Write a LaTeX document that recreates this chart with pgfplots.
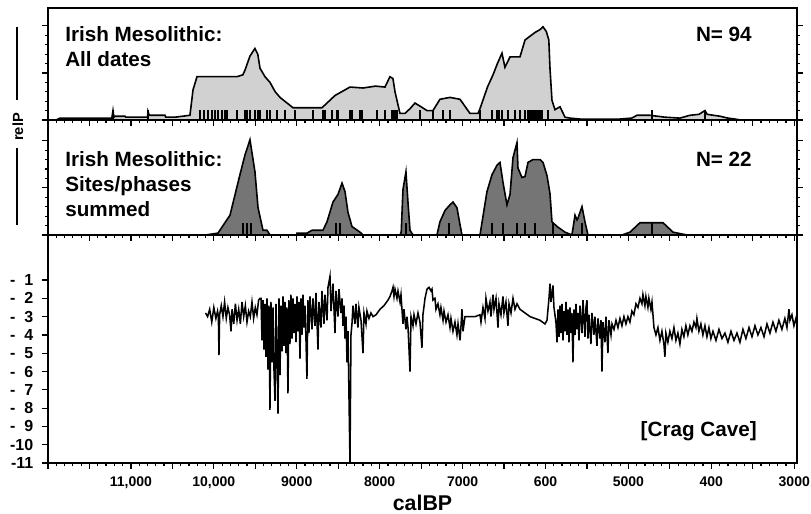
\documentclass[border=0pt]{standalone}
\usepackage{fontspec}
\setmainfont{Liberation Sans}
\usepackage{pgfplots}
\pgfplotsset{compat=1.18}

\definecolor{lightfill}{gray}{0.82}
\definecolor{darkfill}{gray}{0.46}

\pgfplotsset{
  panel/.style={
    scale only axis, width=561.75pt,
    xmin=2967, xmax=12000, x dir=reverse,
    scaled x ticks=false, scaled y ticks=false,
    axis line style={line width=1.2pt},
    tick align=outside, xtick pos=bottom,
    xtick={3000,3500,...,12000}, minor x tick num=4,
    major tick length=4.5pt, minor tick length=2.5pt,
    every tick/.style={black, line width=0.9pt},
    tick label style={font=\bfseries\fontsize{10.5}{12}\selectfont},
  },
}

\begin{document}
\begin{tikzpicture}
\path[use as bounding box] (0,0) rectangle (608.25pt,385.5pt);

% ---------- top panel: all dates ----------
\begin{axis}[panel, name=top,
  at={(36pt,295.5pt)}, anchor=south west, height=84pt,
  ymin=0, ymax=11.9, ytick pos=both,
  ytick={0,5,10}, minor y tick num=4,
  xticklabels={}, yticklabels={}]
\addplot[fill=lightfill, draw=black, line width=1.2pt] coordinates {
 (11900,0) (11855,0.2) (11230,0.2) (11216,1.0) (11205,0.3) (11192,0.4) (11071,0.4)
 (11060,0.3) (10890,0.3) (10800,0.3) (10794,0.9) (10780,0.5) (10589,0.5) (10580,0.3)
 (10468,0.3) (10288,0.5) (10251,3.2) (10203,4.6) (9721,4.6) (9650,4.8) (9624,5.3)
 (9564,6.8) (9504,7.6) (9470,7.0) (9443,5.5) (9383,4.6) (9323,4.0) (9260,3.0)
 (9202,2.4) (9045,1.3) (8696,1.3) (8539,2.6) (8358,3.5) (8200,3.4) (8050,3.6)
 (7936,3.5) (7876,4.6) (7840,4.4) (7815,3.0) (7755,0.7) (7695,0.7) (7634,1.2)
 (7574,1.8) (7500,1.4) (7429,1.0) (7357,1.0) (7273,2.2) (7152,2.4) (7031,2.2)
 (6911,0.7) (6814,0.7) (6790,1.2) (6700,3.5) (6633,4.8) (6580,6.0) (6525,7.1)
 (6489,5.6) (6428,6.7) (6308,6.7) (6247,8.5) (6127,9.3) (6067,9.6) (6030,9.9)
 (5990,9.4) (5960,8.5) (5946,5.5) (5922,2.1) (5886,1.1) (5825,1.4) (5765,0.3)
 (5705,0.2) (5584,0.1) (5102,0.1) (4960,0.2) (4897,0.5) (4740,0.5) (4560,0.3)
 (4380,0.2) (4258,0.5) (4150,0.6) (4077,1.0) (4050,0.6) (3896,0.4) (3800,0.2)
 (3715,0.1) (3650,0)
} \closedcycle;
\addplot[ycomb, black, line width=1.5pt, mark=none] coordinates {
 (11216,1.1) (10794,1.1) (10167,1.1) (10119,1.1) (10070,1.1) (10022,1.1) (9986,1.1) (9950,1.1)
 (9902,1.1) (9865,1.1) (9841,1.1) (9721,1.1) (9624,1.1) (9600,1.1) (9564,1.1) (9504,1.1) (9467,1.1)
 (9443,1.1) (9359,1.1) (9323,1.1) (9238,1.1) (9142,1.1) (9021,1.1) (8804,1.1) (8684,1.1) (8660,1.1)
 (8575,1.1) (8515,1.1) (8503,1.1) (8358,1.1) (8334,1.1) (8237,1.1) (8213,1.1) (8032,1.1) (7936,1.1)
 (7851,1.1) (7827,1.1) (7803,1.1) (7791,1.1) (7514,1.1) (7357,1.1) (7236,1.1) (7152,1.1) (6790,1.1)
 (6645,1.1) (6585,1.1) (6561,1.1) (6525,1.1) (6453,1.1) (6368,1.1) (6308,1.1) (6247,1.1) (6211,1.1)
 (6187,1.1) (6163,1.1) (6139,1.1) (6115,1.1) (6091,1.1) (6067,1.1) (6043,1.1) (5970,1.1) (4716,1.1)
 (4077,1.1)
};
\end{axis}

% ---------- middle panel: sites/phases summed ----------
\begin{axis}[panel, name=mid,
  at={(36pt,209.25pt)}, anchor=south west, height=86.25pt,
  ymin=0, ymax=12.2, ytick pos=both,
  ytick={0,5,10}, minor y tick num=4,
  xticklabels={}, yticklabels={}]
\addplot[fill=darkfill, draw=black, line width=1.2pt] coordinates {
 (10100,0) (9950,0.2) (9805,2.1) (9685,6.4) (9624,8.5) (9564,10.1) (9504,6.7)
 (9467,2.9) (9407,0.5) (9359,0.5) (9323,0) (9000,0) (8997,0.2) (8876,0.2)
 (8816,0.5) (8684,0.5) (8635,1.4) (8563,3.5) (8503,4.3) (8454,5.5) (8418,4.6)
 (8382,2.4) (8334,0.9) (8237,0.3) (8201,0) (7755,0) (7740,0.3) (7719,4.8)
 (7683,6.7) (7658,3.4) (7634,0.5) (7598,0) (7309,0) (7273,1.4) (7212,2.6)
 (7152,3.2) (7116,3.5) (7068,2.9) (7031,1.1) (7007,0) (6790,0) (6706,4.6)
 (6645,6.4) (6585,7.4) (6549,7.7) (6513,5.6) (6465,3.2) (6428,4.3) (6392,8.2)
 (6344,9.8) (6332,7.1) (6284,6.1) (6247,6.2) (6211,7.7) (6151,8.0) (6067,8.0)
 (6030,7.7) (5982,6.3) (5946,4.4) (5922,1.4) (5861,0.9) (5765,0.3) (5681,0)
 (5644,2.1) (5620,1.6) (5608,1.8) (5560,3.0) (5524,1.4) (5488,0) (5078,0)
 (4981,0.3) (4861,1.3) (4583,1.3) (4462,0.3) (4294,0)
} \closedcycle;
\addplot[ycomb, black, line width=1.1pt, mark=none] coordinates {
 (9648,1.3) (9600,1.3) (9552,1.3) (8527,1.3) (8479,1.3) (7683,1.3) (7164,1.3)
 (6645,1.3) (6513,1.3) (6344,1.3) (6247,1.3) (6127,1.3) (5910,1.3) (5560,1.3)
 (4716,1.3)
};
\end{axis}

% ---------- bottom panel: Crag Cave ----------
\begin{axis}[panel, name=bot,
  at={(36pt,38.25pt)}, anchor=south west, height=171pt,
  ymin=-11, ymax=1.46, ytick pos=left,
  ytick={-11,-10,...,-1},
  yticklabels={-11,-10,-\phantom{0}9,-\phantom{0}8,-\phantom{0}7,-\phantom{0}6,-\phantom{0}5,-\phantom{0}4,-\phantom{0}3,-\phantom{0}2,-\phantom{0}1},
  yticklabel style={font=\bfseries\fontsize{12}{12}\selectfont, xshift=-3pt},
  xticklabels={3000,,400,,5000,,600,,7000,,8000,,9000,,{10,000},,{11,000},,},
  xticklabel style={yshift=-2pt},
  xlabel={calBP},
  xlabel style={font=\bfseries\fontsize{16}{16}\selectfont, yshift=2pt}]
\addplot[black, line width=1.15pt, mark=none] coordinates {
 (10100,-2.8) (10075,-3.0) (10050,-2.6) (10025,-3.3) (10000,-2.5) (9975,-3.1)
 (9955,-2.7) (9945,-3.0) (9938,-5.1) (9930,-2.9) (9910,-2.4) (9890,-3.0) (9870,-2.2)
 (9850,-3.1) (9830,-2.5) (9810,-2.9) (9793,-3.8) (9780,-2.6) (9760,-3.4) (9740,-2.3)
 (9720,-3.2) (9700,-2.6) (9680,-3.4) (9660,-2.2) (9640,-3.0) (9620,-2.4) (9600,-3.3)
 (9580,-2.7) (9560,-3.0) (9540,-2.2) (9520,-3.1) (9500,-2.5) (9480,-2.9) (9460,-2.1)
 (9443,-2.0) (9431,-2.0) (9419,-4.3) (9407,-2.1) (9395,-4.8) (9383,-2.3) (9371,-5.2)
 (9359,-2.0) (9347,-5.9) (9335,-2.4) (9323,-8.1) (9311,-2.2) (9298,-5.5) (9286,-2.5)
 (9274,-6.0) (9262,-7.6) (9250,-2.3) (9238,-5.0) (9226,-8.3) (9214,-2.0) (9202,-6.2)
 (9190,-2.4) (9178,-4.9) (9166,-1.9) (9154,-4.6) (9142,-2.2) (9130,-5.0) (9118,-2.5)
 (9106,-7.2) (9094,-2.1) (9082,-4.5) (9070,-1.8) (9057,-4.2) (9045,-2.0) (9033,-3.9)
 (9021,-2.3) (9009,-4.4) (8997,-1.9) (8985,-3.8) (8973,-2.2) (8961,-5.3) (8949,-2.0)
 (8937,-4.0) (8925,-1.8) (8913,-3.6) (8901,-2.4) (8889,-4.2) (8877,-6.4) (8865,-2.1)
 (8853,-3.9) (8840,-1.9) (8816,-3.7) (8804,-2.0) (8780,-3.5) (8768,-1.7) (8744,-4.8)
 (8732,-2.2) (8708,-3.6) (8696,-1.6) (8672,-3.4) (8660,-1.8) (8635,-3.2) (8623,-1.4)
 (8599,-0.8) (8587,-2.7) (8563,-1.2) (8539,-3.9) (8527,-1.6) (8503,-3.0) (8491,-1.5)
 (8467,-2.8) (8454,-2.0) (8442,-3.5) (8430,-2.4) (8418,-4.2) (8406,-3.0) (8394,-5.5)
 (8382,-3.8) (8370,-7.4) (8358,-11.0) (8346,-4.0) (8334,-3.4) (8322,-2.4) (8298,-3.4)
 (8286,-2.3) (8262,-3.6) (8250,-2.5) (8225,-3.2) (8201,-5.0) (8189,-2.8) (8165,-3.4)
 (8153,-2.7) (8129,-3.1) (8105,-2.8) (8080,-3.0) (8044,-2.9) (7996,-2.6) (7948,-2.4)
 (7900,-2.1) (7876,-1.9) (7851,-1.6) (7839,-1.4) (7827,-1.9) (7815,-1.5) (7791,-2.0)
 (7779,-1.6) (7755,-2.2) (7743,-1.8) (7719,-3.4) (7707,-2.6) (7683,-3.7) (7671,-3.0)
 (7658,-3.6) (7634,-6.0) (7622,-3.0) (7598,-3.5) (7586,-2.9) (7562,-3.4) (7538,-2.8)
 (7514,-3.3) (7490,-4.7) (7478,-2.9) (7453,-2.0) (7429,-1.5) (7405,-1.4) (7381,-1.6)
 (7369,-1.5) (7357,-2.1) (7333,-2.0) (7321,-2.6) (7297,-2.3) (7273,-2.9) (7261,-2.5)
 (7236,-3.2) (7224,-2.7) (7200,-3.3) (7176,-2.9) (7152,-3.6) (7140,-3.1) (7116,-3.8)
 (7092,-3.3) (7068,-4.0) (7055,-3.4) (7031,-4.3) (7019,-3.5) (7007,-2.6) (6995,-3.8)
 (6971,-3.0) (6911,-3.0) (6850,-3.0) (6790,-2.9) (6778,-3.3) (6754,-2.5) (6730,-3.1)
 (6718,-2.0) (6694,-2.7) (6670,-2.2) (6658,-3.0) (6633,-1.8) (6621,-2.6) (6597,-2.0)
 (6573,-3.6) (6561,-2.3) (6537,-2.9) (6513,-1.9) (6501,-2.8) (6477,-2.2) (6453,-3.5)
 (6440,-2.3) (6416,-2.8) (6392,-2.0) (6368,-2.6) (6344,-2.3) (6308,-2.6) (6247,-2.8)
 (6187,-3.0) (6127,-3.1) (6067,-3.2) (6006,-3.4) (5982,-3.2) (5958,-2.0) (5946,-1.2)
 (5934,-2.2) (5910,-1.3) (5898,-2.5) (5874,-3.3) (5861,-4.4) (5849,-2.6) (5837,-4.1)
 (5825,-2.4) (5813,-3.9) (5801,-2.3) (5789,-4.3) (5777,-2.7) (5765,-3.8) (5753,-2.2)
 (5741,-4.0) (5729,-2.6) (5717,-4.4) (5705,-2.5) (5693,-3.9) (5681,-2.8) (5669,-5.5)
 (5656,-2.6) (5644,-4.0) (5632,-2.3) (5620,-3.7) (5608,-2.8) (5596,-4.3) (5584,-2.4)
 (5560,-3.9) (5548,-2.1) (5524,-4.1) (5512,-2.5) (5500,-2.1) (5488,-4.2) (5476,-2.9)
 (5452,-4.5) (5440,-2.8) (5416,-4.0) (5404,-3.0) (5379,-4.6) (5367,-3.1) (5343,-4.2)
 (5331,-3.2) (5319,-6.0) (5307,-3.3) (5283,-4.4) (5271,-3.0) (5247,-5.0) (5235,-3.2)
 (5210,-4.0) (5198,-3.4) (5174,-3.7) (5150,-3.2) (5126,-3.6) (5102,-3.1) (5078,-3.5)
 (5054,-3.0) (5030,-3.4) (5006,-3.0) (4982,-3.3) (4958,-2.7) (4934,-2.9) (4909,-2.3)
 (4885,-2.5) (4861,-2.0) (4837,-2.3) (4825,-1.8) (4801,-2.4) (4789,-1.9) (4765,-2.5)
 (4753,-2.0) (4729,-2.6) (4716,-2.2) (4692,-3.6) (4668,-4.0) (4644,-3.6) (4620,-4.3)
 (4596,-3.8) (4572,-4.5) (4560,-5.2) (4548,-3.9) (4524,-4.4) (4500,-3.8) (4475,-4.2)
 (4451,-3.6) (4427,-4.3) (4403,-3.9) (4379,-4.5) (4355,-3.7) (4331,-4.1) (4307,-3.5)
 (4283,-4.0) (4258,-3.5) (4234,-3.8) (4210,-3.3) (4186,-3.6) (4174,-3.1) (4150,-3.8)
 (4126,-3.4) (4102,-4.0) (4077,-3.5) (4053,-4.1) (4029,-3.6) (4005,-4.2) (3980,-3.8)
 (3944,-4.3) (3908,-3.7) (3872,-4.2) (3836,-3.9) (3800,-4.4) (3763,-3.8) (3727,-4.3)
 (3691,-3.9) (3655,-4.4) (3619,-3.7) (3583,-4.2) (3546,-3.6) (3510,-4.1) (3474,-3.5)
 (3438,-4.0) (3402,-3.6) (3365,-4.1) (3329,-3.4) (3293,-3.9) (3257,-3.3) (3221,-3.8)
 (3185,-3.2) (3149,-3.7) (3113,-3.1) (3088,-3.6) (3064,-2.6) (3052,-3.2) (3028,-2.9)
 (3004,-3.5) (2980,-3.1) (2968,-3.4)
};
\end{axis}

% ---------- texts ----------
\begin{scope}[every node/.style={font=\bfseries\fontsize{15.5}{18}\selectfont, inner sep=0pt}]
\node[anchor=base west] at (48.75pt,354pt) {Irish Mesolithic:};
\node[anchor=base west] at (48.75pt,335.25pt) {All dates};
\node[anchor=base east] at (564pt,354pt) {N= 94};
\node[anchor=base west] at (48.75pt,260.25pt) {Irish Mesolithic:};
\node[anchor=base west] at (48.75pt,241.5pt) {Sites/phases};
\node[anchor=base west] at (48.75pt,222.75pt) {summed};
\node[anchor=base east] at (564pt,260.25pt) {N= 22};
\node[anchor=base east] at (567.75pt,57.75pt) {[Crag Cave]};
\end{scope}
\node[rotate=90, font=\bfseries\fontsize{11}{12}\selectfont, inner sep=0pt] at (13.5pt,290.25pt) {relP};
\draw[line width=1.8pt] (12.75pt,365.25pt) -- (12.75pt,310.5pt);
\draw[line width=1.8pt] (12.75pt,274.5pt) -- (12.75pt,216.75pt);
\end{tikzpicture}
\end{document}
